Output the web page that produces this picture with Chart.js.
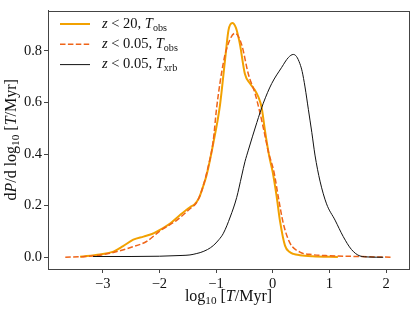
<!DOCTYPE html>
<html>
<head>
<meta charset="utf-8">
<script src="https://cdn.jsdelivr.net/npm/chart.js@4/dist/chart.umd.min.js"></script>
<style>
  html, body { margin: 0; padding: 0; background: #fff; }
  #wrap { width: 415px; height: 314px; }
</style>
</head>
<body>
<div id="wrap"><canvas id="c" width="415" height="314"></canvas></div>
<script>
// valores (x = log10 T/Myr, y = dP/dlog10)
const soloX = [-3.4, -3.05, -2.81, -2.64, -2.46, -2.28, -2.13, -1.99, -1.81, -1.64, -1.46, -1.38, -1.3, -1.22, -1.165, -1.05, -0.93, -0.84, -0.78, -0.713, -0.65, -0.607, -0.577, -0.49, -0.4, -0.312, -0.254, -0.195, -0.136, -0.06, 0.0, 0.07, 0.129, 0.217, 0.3, 0.364, 0.48, 0.7, 1.15];
const soloY = [0.002, 0.011, 0.022, 0.043, 0.068, 0.08, 0.09, 0.106, 0.131, 0.163, 0.194, 0.205, 0.23, 0.28, 0.32, 0.44, 0.59, 0.767, 0.88, 0.908, 0.89, 0.855, 0.824, 0.71, 0.673, 0.647, 0.622, 0.58, 0.49, 0.39, 0.33, 0.235, 0.14, 0.045, 0.02, 0.013, 0.008, 0.004, 0.001];

const cercaX = [-3.66, -3.3, -3.05, -2.75, -2.52, -2.22, -1.99, -1.69, -1.46, -1.34, -1.25, -1.15, -1.05, -0.99, -0.87, -0.78, -0.665, -0.548, -0.43, -0.312, -0.224, -0.136, -0.078, 0.023, 0.1, 0.187, 0.305, 0.48, 0.7, 1.0, 1.5, 2.11];
const cercaY = [0.0, 0.003, 0.008, 0.022, 0.037, 0.062, 0.102, 0.144, 0.188, 0.213, 0.26, 0.34, 0.45, 0.578, 0.755, 0.83, 0.868, 0.824, 0.71, 0.635, 0.559, 0.471, 0.41, 0.33, 0.232, 0.131, 0.055, 0.02, 0.01, 0.006, 0.003, 0.0];

const xrbX = [-3.17, -2.5, -2.0, -1.6, -1.46, -1.35, -1.28, -1.15, -1.05, -0.95, -0.87, -0.75, -0.635, -0.548, -0.49, -0.43, -0.28, -0.166, -0.018, 0.159, 0.276, 0.364, 0.42, 0.48, 0.52, 0.57, 0.63, 0.69, 0.746, 0.835, 0.95, 1.1, 1.245, 1.39, 1.54, 1.7, 1.95];
const xrbY = [0.003, 0.003, 0.004, 0.007, 0.009, 0.014, 0.018, 0.03, 0.045, 0.068, 0.093, 0.156, 0.232, 0.315, 0.37, 0.415, 0.522, 0.597, 0.673, 0.736, 0.774, 0.786, 0.778, 0.75, 0.72, 0.66, 0.572, 0.484, 0.396, 0.295, 0.207, 0.144, 0.08, 0.03, 0.005, 0.001, 0.0];

const ticksX = [-3, -2, -1, 0, 1, 2];
const ticksY = [0.0, 0.2, 0.4, 0.6, 0.8];

const SERIF = '"Liberation Serif", "DejaVu Serif", serif';

function puntos(xs, ys) {
    return xs.map((x, i) => ({ x: x, y: ys[i] }));
}

// texto con cursivas y subindices, tipo LaTeX
function textoRico(ctx, partes, x, y, size) {
    let cx = x;
    partes.forEach(p => {
        let fs = p.sub ? size * 0.7 : size;
        ctx.font = (p.it ? 'italic ' : '') + fs + 'px ' + SERIF;
        ctx.fillText(p.t, cx, y + (p.sub ? size * 0.28 : 0));
        cx += ctx.measureText(p.t).width;
    });
    return cx - x;
}

function anchoRico(ctx, partes, size) {
    let w = 0;
    partes.forEach(p => {
        let fs = p.sub ? size * 0.7 : size;
        ctx.font = (p.it ? 'italic ' : '') + fs + 'px ' + SERIF;
        w += ctx.measureText(p.t).width;
    });
    return w;
}

const series = [
    { label: [{ t: 'z', it: true }, { t: ' < 20, ' }, { t: 'T', it: true }, { t: 'obs', sub: true }], color: '#f2a100', width: 2, dash: [] },
    { label: [{ t: 'z', it: true }, { t: ' < 0.05, ' }, { t: 'T', it: true }, { t: 'obs', sub: true }], color: '#ef6418', width: 1.5, dash: [5.5, 2.4] },
    { label: [{ t: 'z', it: true }, { t: ' < 0.05, ' }, { t: 'T', it: true }, { t: 'xrb', sub: true }], color: '#111111', width: 1, dash: [] }
];

const decorado = {
    id: 'decorado',
    afterDraw(chart) {
        const ctx = chart.ctx;
        const a = chart.chartArea;
        ctx.save();
        // marco completo
        ctx.strokeStyle = '#444';
        ctx.lineWidth = 1;
        ctx.strokeRect(Math.round(a.left) + 0.5, Math.round(a.top) + 0.5, Math.round(a.right - a.left), Math.round(a.bottom - a.top));

        // leyenda
        ctx.fillStyle = '#111';
        ctx.textBaseline = 'middle';
        ctx.textAlign = 'left';
        series.forEach((s, i) => {
            const y = 24 + i * 20.3;
            ctx.strokeStyle = s.color;
            ctx.lineWidth = s.width;
            ctx.setLineDash(s.dash);
            ctx.beginPath();
            ctx.moveTo(60, y);
            ctx.lineTo(90, y);
            ctx.stroke();
            ctx.setLineDash([]);
            textoRico(ctx, s.label, 102, y, 14.5);
        });

        // titulo eje x
        const tx = [{ t: 'log' }, { t: '10', sub: true }, { t: ' [' }, { t: 'T', it: true }, { t: '/Myr]' }];
        const wx = anchoRico(ctx, tx, 16);
        textoRico(ctx, tx, (a.left + a.right) / 2 - wx / 2, 297, 16);

        // titulo eje y
        const ty = [{ t: 'd' }, { t: 'P', it: true }, { t: '/d log' }, { t: '10', sub: true }, { t: ' [' }, { t: 'T', it: true }, { t: '/Myr]' }];
        const wy = anchoRico(ctx, ty, 16);
        ctx.translate(12, (a.top + a.bottom) / 2);
        ctx.rotate(-Math.PI / 2);
        textoRico(ctx, ty, -wy / 2, 0, 16);
        ctx.restore();
    }
};

function menos(v, dec) {
    return v.toFixed(dec).replace('-', '\u2212');
}

new Chart(document.getElementById('c'), {
    type: 'line',
    data: {
        datasets: series.map((s, i) => ({
            data: puntos([soloX, cercaX, xrbX][i], [soloY, cercaY, xrbY][i]),
            borderColor: s.color,
            borderWidth: s.width,
            borderDash: s.dash,
            pointRadius: 0,
            fill: false,
            cubicInterpolationMode: 'monotone',
            order: 3 - i
        }))
    },
    options: {
        responsive: false,
        animation: false,
        devicePixelRatio: 1,
        layout: { padding: { top: 5, right: 6, left: 0, bottom: 0 } },
        plugins: {
            legend: { display: false },
            tooltip: { enabled: false }
        },
        scales: {
            x: {
                type: 'linear',
                min: -3.965,
                max: 2.405,
                afterBuildTicks: s => { s.ticks = ticksX.map(v => ({ value: v })); },
                afterFit: s => { s.height = 45; },
                ticks: {
                    callback: v => menos(v, 0),
                    color: '#111',
                    padding: 2,
                    maxRotation: 0,
                    font: { family: SERIF, size: 14.5 }
                },
                grid: { drawOnChartArea: false, drawTicks: true, tickLength: 4, tickColor: '#444' },
                border: { display: true, color: '#444' }
            },
            y: {
                min: -0.0455,
                max: 0.9555,
                afterBuildTicks: s => { s.ticks = ticksY.map(v => ({ value: v })); },
                afterFit: s => { s.width = 48; },
                ticks: {
                    callback: v => menos(v, 1),
                    color: '#111',
                    padding: 2,
                    font: { family: SERIF, size: 14.5 }
                },
                grid: { drawOnChartArea: false, drawTicks: true, tickLength: 4, tickColor: '#444' },
                border: { display: true, color: '#444' }
            }
        }
    },
    plugins: [decorado]
});
</script>
</body>
</html>
